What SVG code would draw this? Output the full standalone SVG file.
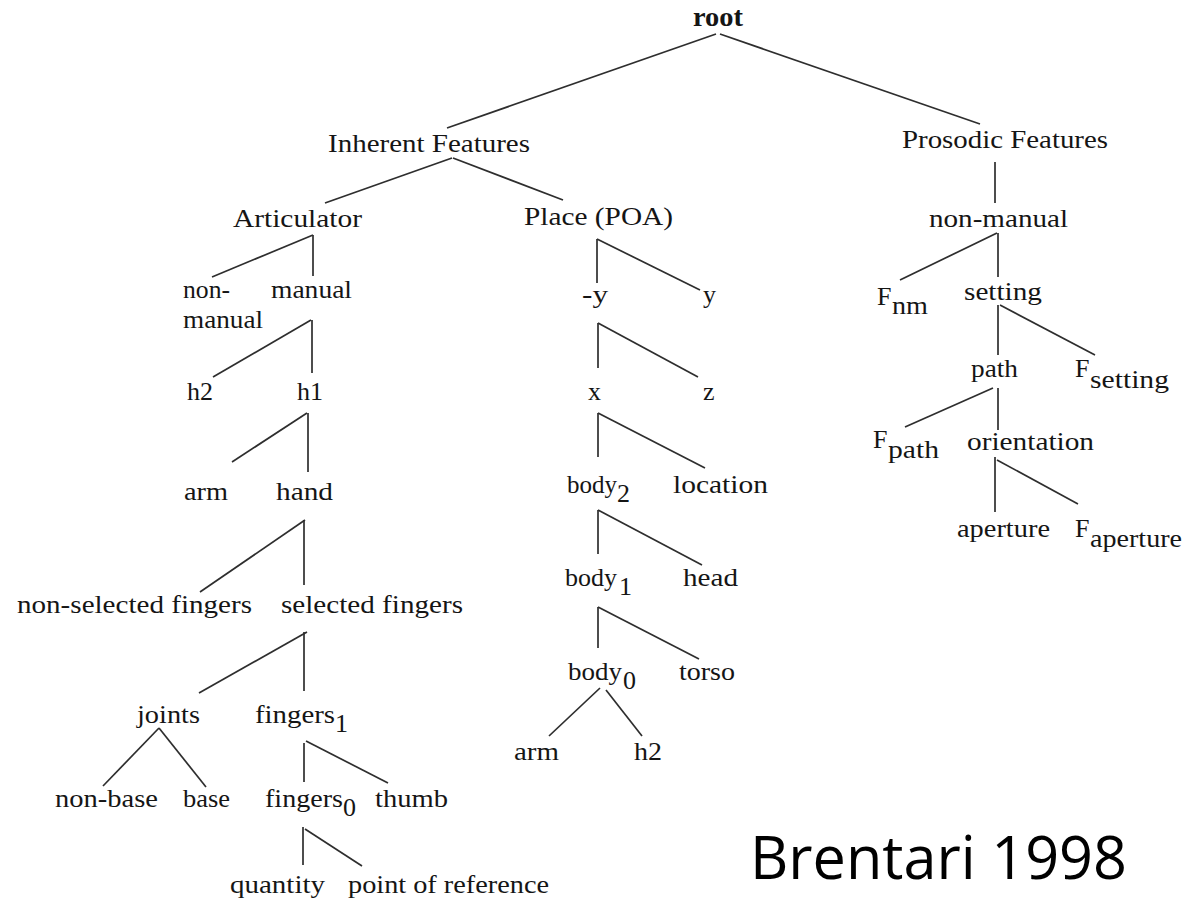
<svg xmlns="http://www.w3.org/2000/svg" width="1186" height="904" viewBox="0 0 1186 904">
<style>
.t{font-family:"Liberation Serif","Times New Roman",serif;font-size:26px;fill:#151515}
.b{font-weight:bold;font-size:27px}
.cap{font-family:"Open Sans","Liberation Sans",sans-serif;font-size:60px;fill:#000}
.e line{stroke:#2e2e2e;stroke-width:1.7;fill:none}
</style>
<rect width="1186" height="904" fill="#fff"/>
<g class="e" id="connectors">
<line x1="716" y1="34" x2="447" y2="128"/>
<line x1="720" y1="34" x2="980" y2="124"/>
<line x1="452" y1="158" x2="325" y2="203"/>
<line x1="453" y1="158" x2="563" y2="200"/>
<line x1="313" y1="235" x2="212" y2="277"/>
<line x1="313" y1="235" x2="313" y2="276"/>
<line x1="311" y1="320" x2="213" y2="377"/>
<line x1="312" y1="320" x2="312" y2="373"/>
<line x1="307" y1="413" x2="232" y2="462"/>
<line x1="308" y1="413" x2="308" y2="472"/>
<line x1="305" y1="520" x2="200" y2="592"/>
<line x1="304" y1="520" x2="304" y2="585"/>
<line x1="307" y1="632" x2="199" y2="693"/>
<line x1="304" y1="632" x2="304" y2="691"/>
<line x1="159" y1="728" x2="103" y2="786"/>
<line x1="159" y1="728" x2="206" y2="787"/>
<line x1="304" y1="743" x2="304" y2="782"/>
<line x1="306" y1="741" x2="388" y2="783"/>
<line x1="303" y1="827" x2="303" y2="865"/>
<line x1="305" y1="829" x2="362" y2="866"/>
<line x1="597" y1="239" x2="597" y2="283"/>
<line x1="597" y1="239" x2="700" y2="290"/>
<line x1="598" y1="323" x2="598" y2="368"/>
<line x1="598" y1="323" x2="698" y2="377"/>
<line x1="598" y1="413" x2="598" y2="457"/>
<line x1="598" y1="413" x2="705" y2="468"/>
<line x1="598" y1="510" x2="598" y2="554"/>
<line x1="598" y1="510" x2="702" y2="565"/>
<line x1="598" y1="607" x2="598" y2="648"/>
<line x1="598" y1="607" x2="699" y2="659"/>
<line x1="600" y1="688" x2="549" y2="736"/>
<line x1="606" y1="690" x2="642" y2="736"/>
<line x1="995" y1="162" x2="995" y2="203"/>
<line x1="997" y1="233" x2="900" y2="280"/>
<line x1="998" y1="233" x2="998" y2="277"/>
<line x1="998" y1="305" x2="998" y2="355"/>
<line x1="1000" y1="305" x2="1095" y2="355"/>
<line x1="993" y1="388" x2="905" y2="427"/>
<line x1="998" y1="388" x2="998" y2="430"/>
<line x1="995" y1="457" x2="995" y2="512"/>
<line x1="997" y1="460" x2="1078" y2="504"/>
</g>
<g id="root"><text class="t b" x="693" y="26" textLength="50" lengthAdjust="spacingAndGlyphs">root</text></g>
<g id="inherent"><text class="t" x="328" y="152" textLength="202" lengthAdjust="spacingAndGlyphs">Inherent Features</text></g>
<g id="prosodic"><text class="t" x="902" y="148" textLength="206" lengthAdjust="spacingAndGlyphs">Prosodic Features</text></g>
<g id="articulator"><text class="t" x="233" y="227" textLength="129" lengthAdjust="spacingAndGlyphs">Articulator</text></g>
<g id="place"><text class="t" x="524" y="225" textLength="149" lengthAdjust="spacingAndGlyphs">Place (POA)</text></g>
<g id="nonmanual-a"><text class="t" x="183" y="298" textLength="47" lengthAdjust="spacingAndGlyphs">non-</text><text class="t" x="183" y="328" textLength="80" lengthAdjust="spacingAndGlyphs">manual</text></g>
<g id="manual"><text class="t" x="271" y="298" textLength="81" lengthAdjust="spacingAndGlyphs">manual</text></g>
<g id="h2-a"><text class="t" x="187" y="400" textLength="26" lengthAdjust="spacingAndGlyphs">h2</text></g>
<g id="h1"><text class="t" x="297" y="400" textLength="26" lengthAdjust="spacingAndGlyphs">h1</text></g>
<g id="arm-a"><text class="t" x="184" y="500" textLength="44" lengthAdjust="spacingAndGlyphs">arm</text></g>
<g id="hand"><text class="t" x="276" y="500" textLength="57" lengthAdjust="spacingAndGlyphs">hand</text></g>
<g id="nonselected"><text class="t" x="17" y="613" textLength="235" lengthAdjust="spacingAndGlyphs">non-selected fingers</text></g>
<g id="selected"><text class="t" x="281" y="613" textLength="182" lengthAdjust="spacingAndGlyphs">selected fingers</text></g>
<g id="joints"><text class="t" x="137" y="723" textLength="63" lengthAdjust="spacingAndGlyphs">joints</text></g>
<g id="fingers1"><text class="t" x="255" y="723" textLength="80" lengthAdjust="spacingAndGlyphs">fingers</text><text class="t" x="335" y="732">1</text></g>
<g id="nonbase"><text class="t" x="55" y="807" textLength="103" lengthAdjust="spacingAndGlyphs">non-base</text></g>
<g id="base"><text class="t" x="183" y="807" textLength="47" lengthAdjust="spacingAndGlyphs">base</text></g>
<g id="fingers0"><text class="t" x="265" y="807" textLength="78" lengthAdjust="spacingAndGlyphs">fingers</text><text class="t" x="343" y="816">0</text></g>
<g id="thumb"><text class="t" x="375" y="807" textLength="73" lengthAdjust="spacingAndGlyphs">thumb</text></g>
<g id="quantity"><text class="t" x="230" y="893" textLength="95" lengthAdjust="spacingAndGlyphs">quantity</text></g>
<g id="pointref"><text class="t" x="348" y="893" textLength="201" lengthAdjust="spacingAndGlyphs">point of reference</text></g>
<g id="neg-y"><text class="t" x="582" y="303" textLength="26" lengthAdjust="spacingAndGlyphs">-y</text></g>
<g id="y"><text class="t" x="703" y="303">y</text></g>
<g id="x"><text class="t" x="588" y="400">x</text></g>
<g id="z"><text class="t" x="703" y="400">z</text></g>
<g id="body2"><text class="t" x="567" y="493" textLength="50" lengthAdjust="spacingAndGlyphs">body</text><text class="t" x="617" y="502">2</text></g>
<g id="location"><text class="t" x="673" y="493" textLength="95" lengthAdjust="spacingAndGlyphs">location</text></g>
<g id="body1"><text class="t" x="565" y="586" textLength="52" lengthAdjust="spacingAndGlyphs">body</text><text class="t" x="619" y="595">1</text></g>
<g id="head"><text class="t" x="683" y="586" textLength="55" lengthAdjust="spacingAndGlyphs">head</text></g>
<g id="body0"><text class="t" x="568" y="680" textLength="54" lengthAdjust="spacingAndGlyphs">body</text><text class="t" x="623" y="689">0</text></g>
<g id="torso"><text class="t" x="679" y="680" textLength="56" lengthAdjust="spacingAndGlyphs">torso</text></g>
<g id="arm-b"><text class="t" x="514" y="760" textLength="45" lengthAdjust="spacingAndGlyphs">arm</text></g>
<g id="h2-b"><text class="t" x="634" y="760" textLength="28" lengthAdjust="spacingAndGlyphs">h2</text></g>
<g id="nonmanual-p"><text class="t" x="929" y="227" textLength="139" lengthAdjust="spacingAndGlyphs">non-manual</text></g>
<g id="fnm"><text class="t" x="877" y="305">F</text><text class="t" x="892" y="314" textLength="36" lengthAdjust="spacingAndGlyphs">nm</text></g>
<g id="setting"><text class="t" x="964" y="300" textLength="78" lengthAdjust="spacingAndGlyphs">setting</text></g>
<g id="path"><text class="t" x="971" y="377" textLength="47" lengthAdjust="spacingAndGlyphs">path</text></g>
<g id="fsetting"><text class="t" x="1075" y="377">F</text><text class="t" x="1090" y="388" textLength="79" lengthAdjust="spacingAndGlyphs">setting</text></g>
<g id="fpath"><text class="t" x="873" y="448">F</text><text class="t" x="888" y="458" textLength="51" lengthAdjust="spacingAndGlyphs">path</text></g>
<g id="orientation"><text class="t" x="967" y="450" textLength="127" lengthAdjust="spacingAndGlyphs">orientation</text></g>
<g id="aperture"><text class="t" x="957" y="537" textLength="93" lengthAdjust="spacingAndGlyphs">aperture</text></g>
<g id="faperture"><text class="t" x="1075" y="537">F</text><text class="t" x="1090" y="547" textLength="92" lengthAdjust="spacingAndGlyphs">aperture</text></g>
<g id="caption"><text class="cap" x="750" y="879" textLength="377" lengthAdjust="spacingAndGlyphs">Brentari 1998</text></g>
</svg>
